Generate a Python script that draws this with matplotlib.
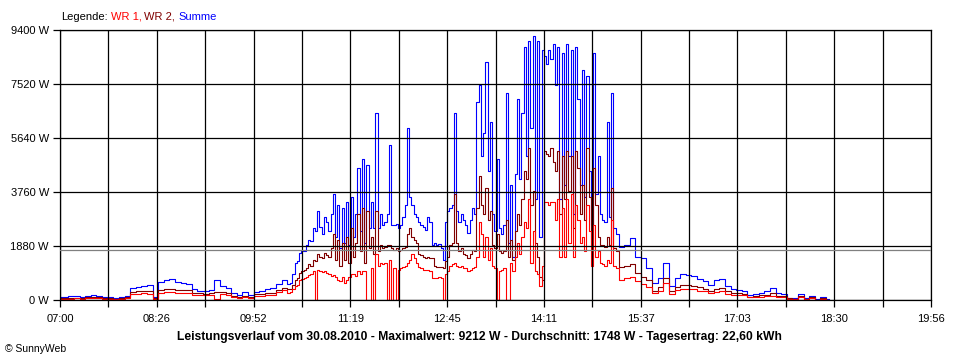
import numpy as np
import matplotlib
matplotlib.use('Agg')
import matplotlib.pyplot as plt

plt.rcParams['font.family'] = ['Liberation Sans', 'DejaVu Sans']

# time axis: minutes after 07:00 (coarse morning/evening, fine around noon)
t_morning = list(range(0, 201, 5))
t_noon = list(range(204, 497, 2))
t_evening = list(range(500, 686, 5))

# Summe (W)
summe_morning = [100, 120, 140, 130, 110, 150, 170, 140, 120, 90,
                 80, 100, 150, 420, 470, 500, 520, 90, 620, 700,
                 720, 640, 600, 550, 380, 330, 300, 350, 700, 480,
                 420, 230, 170, 270, 170, 290, 300, 400, 420, 560,
                 700]
summe_noon = [560, 600, 900, 1300, 1350, 1650, 1700, 1700, 1900, 2100,
              2050, 2500, 2400, 3100, 2550, 2300, 2900, 2700, 2400, 3000,
              3700, 2200, 3300, 1800, 3200, 2000, 3400, 1900, 3600, 2200,
              3000, 4600, 2400, 4900, 2000, 4700, 2500, 3400, 2500, 6500,
              2500, 3000, 2600, 2700, 3000, 5400, 2600, 2600, 2650, 2500,
              2600, 2900, 3300, 6000, 3600, 3300, 3000, 2900, 2700, 2600,
              2550, 2450, 2900, 2700, 1900, 2000, 1900, 1950, 1800, 1400,
              2700, 3100, 3200, 3300, 6500, 3100, 2700, 3000, 2800, 2600,
              2350, 2800, 3200, 3000, 6900, 7500, 5000, 5800, 8300, 4500,
              6200, 3000, 2400, 4900, 2500, 2300, 2600, 7200, 2000, 4000,
              1500, 4400, 7000, 4200, 6500, 8800, 5000, 9000, 6000, 9200,
              3500, 9000, 2200, 8700, 8500, 8200, 8700, 8400, 8900, 7500,
              8800, 3500, 8600, 4000, 8900, 5000, 8700, 3000, 8800, 7000,
              4000, 8000, 3600, 7800, 4500, 2600, 8600, 3700, 5000, 3000,
              2800, 2700, 6200, 2900, 7200, 2500, 2300]
summe_evening = [1850, 1900, 2150, 1500, 1450, 1100, 600, 750, 1300, 500,
                 750, 900, 880, 850, 740, 660, 520, 700, 740, 500,
                 380, 360, 300, 160, 200, 260, 310, 420, 230, 200,
                 80, 70, 220, 60, 130, 20, 90, 20]

# WR 2 (W)
wr2_morning = [60, 70, 80, 80, 70, 90, 100, 90, 70, 60,
               50, 60, 90, 280, 300, 310, 320, 60, 350, 380,
               390, 360, 350, 340, 250, 240, 220, 240, 290, 290,
               260, 140, 110, 150, 110, 200, 200, 240, 260, 350,
               430]
wr2_noon = [380, 400, 520, 700, 780, 950, 1000, 1050, 1100, 1250,
            1200, 1400, 1350, 1600, 1500, 1450, 1650, 1550, 1500, 1800,
            2300, 1400, 2100, 1200, 2000, 1400, 2200, 1300, 2500, 1500,
            2000, 3000, 1700, 3200, 1300, 3100, 1800, 2200, 1600, 3100,
            1700, 1900, 1800, 1850, 1900, 1900, 1800, 1750, 1800, 1700,
            1750, 1800, 1850, 2300, 2500, 2200, 2100, 2000, 1600, 1550,
            1500, 1450, 1500, 1450, 1450, 1200, 1150, 1150, 1150, 1100,
            1350, 1500, 1900, 2000, 3700, 2000, 1700, 1800, 1600, 1550,
            1450, 1600, 1750, 1700, 3200, 4300, 3300, 3000, 3900, 2800,
            3100, 1900, 1800, 2300, 1700, 1650, 1700, 2800, 1500, 2100,
            1400, 2400, 3000, 2600, 3500, 4500, 4200, 5300, 3300, 3800,
            2000, 1500, 800, 700, 5200, 5100, 5000, 5300, 4800, 4500,
            5200, 3000, 5000, 3500, 5200, 3800, 5000, 2500, 5200, 4600,
            3000, 4000, 2800, 5300, 3600, 1900, 4600, 3300, 2200, 1900,
            1900, 1850, 2200, 1900, 3900, 1800, 1700]
wr2_evening = [1150, 1200, 1250, 950, 800, 700, 330, 450, 750, 300,
               450, 520, 510, 500, 440, 400, 320, 400, 420, 300,
               260, 250, 220, 110, 150, 170, 180, 230, 150, 130,
               60, 50, 140, 40, 100, 10, 60, 10]

# WR 1 (W)
wr1_morning = [40, 50, 50, 60, 50, 60, 70, 60, 50, 40,
               40, 40, 60, 200, 220, 230, 220, 40, 260, 280,
               290, 260, 250, 240, 180, 170, 160, 170, 30, 200,
               190, 100, 80, 110, 80, 150, 150, 170, 190, 280,
               340]
wr1_noon = [260, 280, 380, 480, 520, 700, 720, 750, 800, 870,
            900, 1000, 0, 1050, 1000, 980, 1000, 950, 900, 850,
            880, 800, 700, 650, 800, 600, 700, 800, 900, 900,
            850, 1000, 900, 1000, 1000, 0, 0, 1100, 0, 1600,
            1200, 1300, 1250, 1300, 0, 1400, 0, 1100, 0, 1050,
            1100, 1150, 1200, 1300, 1400, 1600, 1450, 1300, 1150, 1100,
            1050, 1050, 1050, 1000, 780, 780, 760, 790, 760, 0,
            900, 1000, 1200, 1250, 1300, 1200, 1150, 1200, 1100, 1100,
            1000, 1050, 1100, 1150, 1500, 2700, 2300, 1500, 2200, 1400,
            1800, 1200, 1100, 0, 1000, 1050, 1100, 0, 0, 1300,
            1000, 1500, 2000, 1600, 2200, 2700, 2500, 3500, 1300, 2400,
            1000, 900, 500, 1200, 3400, 3400, 3300, 3400, 3400, 2800,
            3500, 1500, 3200, 1500, 3500, 2000, 3700, 1500, 3300, 2800,
            2000, 2200, 1700, 3300, 2400, 1200, 2600, 1500, 1700, 1300,
            1250, 1200, 1400, 1300, 2800, 1200, 1100]
wr1_evening = [700, 750, 800, 650, 550, 450, 230, 330, 580, 200,
               350, 400, 400, 390, 330, 310, 250, 290, 300, 220,
               190, 180, 160, 90, 110, 120, 130, 150, 100, 90,
               40, 30, 110, 30, 80, 10, 40, 10]

durchschnitt = 1748
x_labels = ['07:00', '08:26', '09:52', '11:19', '12:45', '14:11',
            '15:37', '17:03', '18:30', '19:56']
y_ticks = [0, 1880, 3760, 5640, 7520, 9400]
title = ('Leistungsverlauf vom 30.08.2010 - Maximalwert: 9212 W - '
         'Durchschnitt: 1748 W - Tagesertrag: 22,60 kWh')

t = t_morning + t_noon + t_evening
summe = summe_morning + summe_noon + summe_evening
wr2 = wr2_morning + wr2_noon + wr2_evening
wr1 = wr1_morning + wr1_noon + wr1_evening

fig = plt.figure(figsize=(9.6, 3.6), dpi=100)
ax = fig.add_axes([60 / 960, 60 / 360, 871 / 960, 270 / 360])

lw = 0.8
ax.plot(t, summe, color='#0000ff', lw=lw, drawstyle='steps-mid', zorder=1.2)
ax.plot(t, wr2, color='#800000', lw=lw, drawstyle='steps-mid', zorder=1.3)
ax.plot(t, wr1, color='#ff0000', lw=lw, drawstyle='steps-mid', zorder=1.4)
ax.axhline(durchschnitt, color='#808080', lw=0.9, zorder=3)

span = 776  # 07:00 .. 19:56 in minutes
ax.set_xlim(0, span)
ax.set_ylim(0, 9400)
xt = np.linspace(0, span, 19)
ax.set_xticks(xt)
ax.set_xticklabels([x_labels[i // 2] if i % 2 == 0 else '' for i in range(19)])
ax.set_yticks(y_ticks)
ax.set_yticklabels([f'{v} W' for v in y_ticks])

ax.set_axisbelow(False)
ax.grid(True, color='black', lw=0.9)
for s in ax.spines.values():
    s.set_linewidth(0.9)
ax.tick_params(direction='out', length=5, width=0.9, labelsize=8)
ax.tick_params(axis='x', pad=5)
ax.tick_params(axis='y', pad=3)

fig.text(0.499, 1 - 337 / 360, title, ha='center', va='center',
         fontsize=8.7, fontweight='bold')
fig.text(5 / 960, 1 - 349 / 360, '\u00a9 SunnyWeb', ha='left', va='center', fontsize=7.5)

# legend line with coloured words
fig.canvas.draw()
rend = fig.canvas.get_renderer()
xpos = 61
for part, col in [('Legende:', 'black'), ('WR 1,', '#ff0000'),
                  ('WR 2,', '#800000'), ('Summe', '#0000ff')]:
    tx = fig.text(xpos / 960, 1 - 16.5 / 360, part, color=col,
                  ha='left', va='center', fontsize=8)
    bb = tx.get_window_extent(renderer=rend)
    xpos = bb.x1 + 3

fig.savefig('out.png', dpi=100)
